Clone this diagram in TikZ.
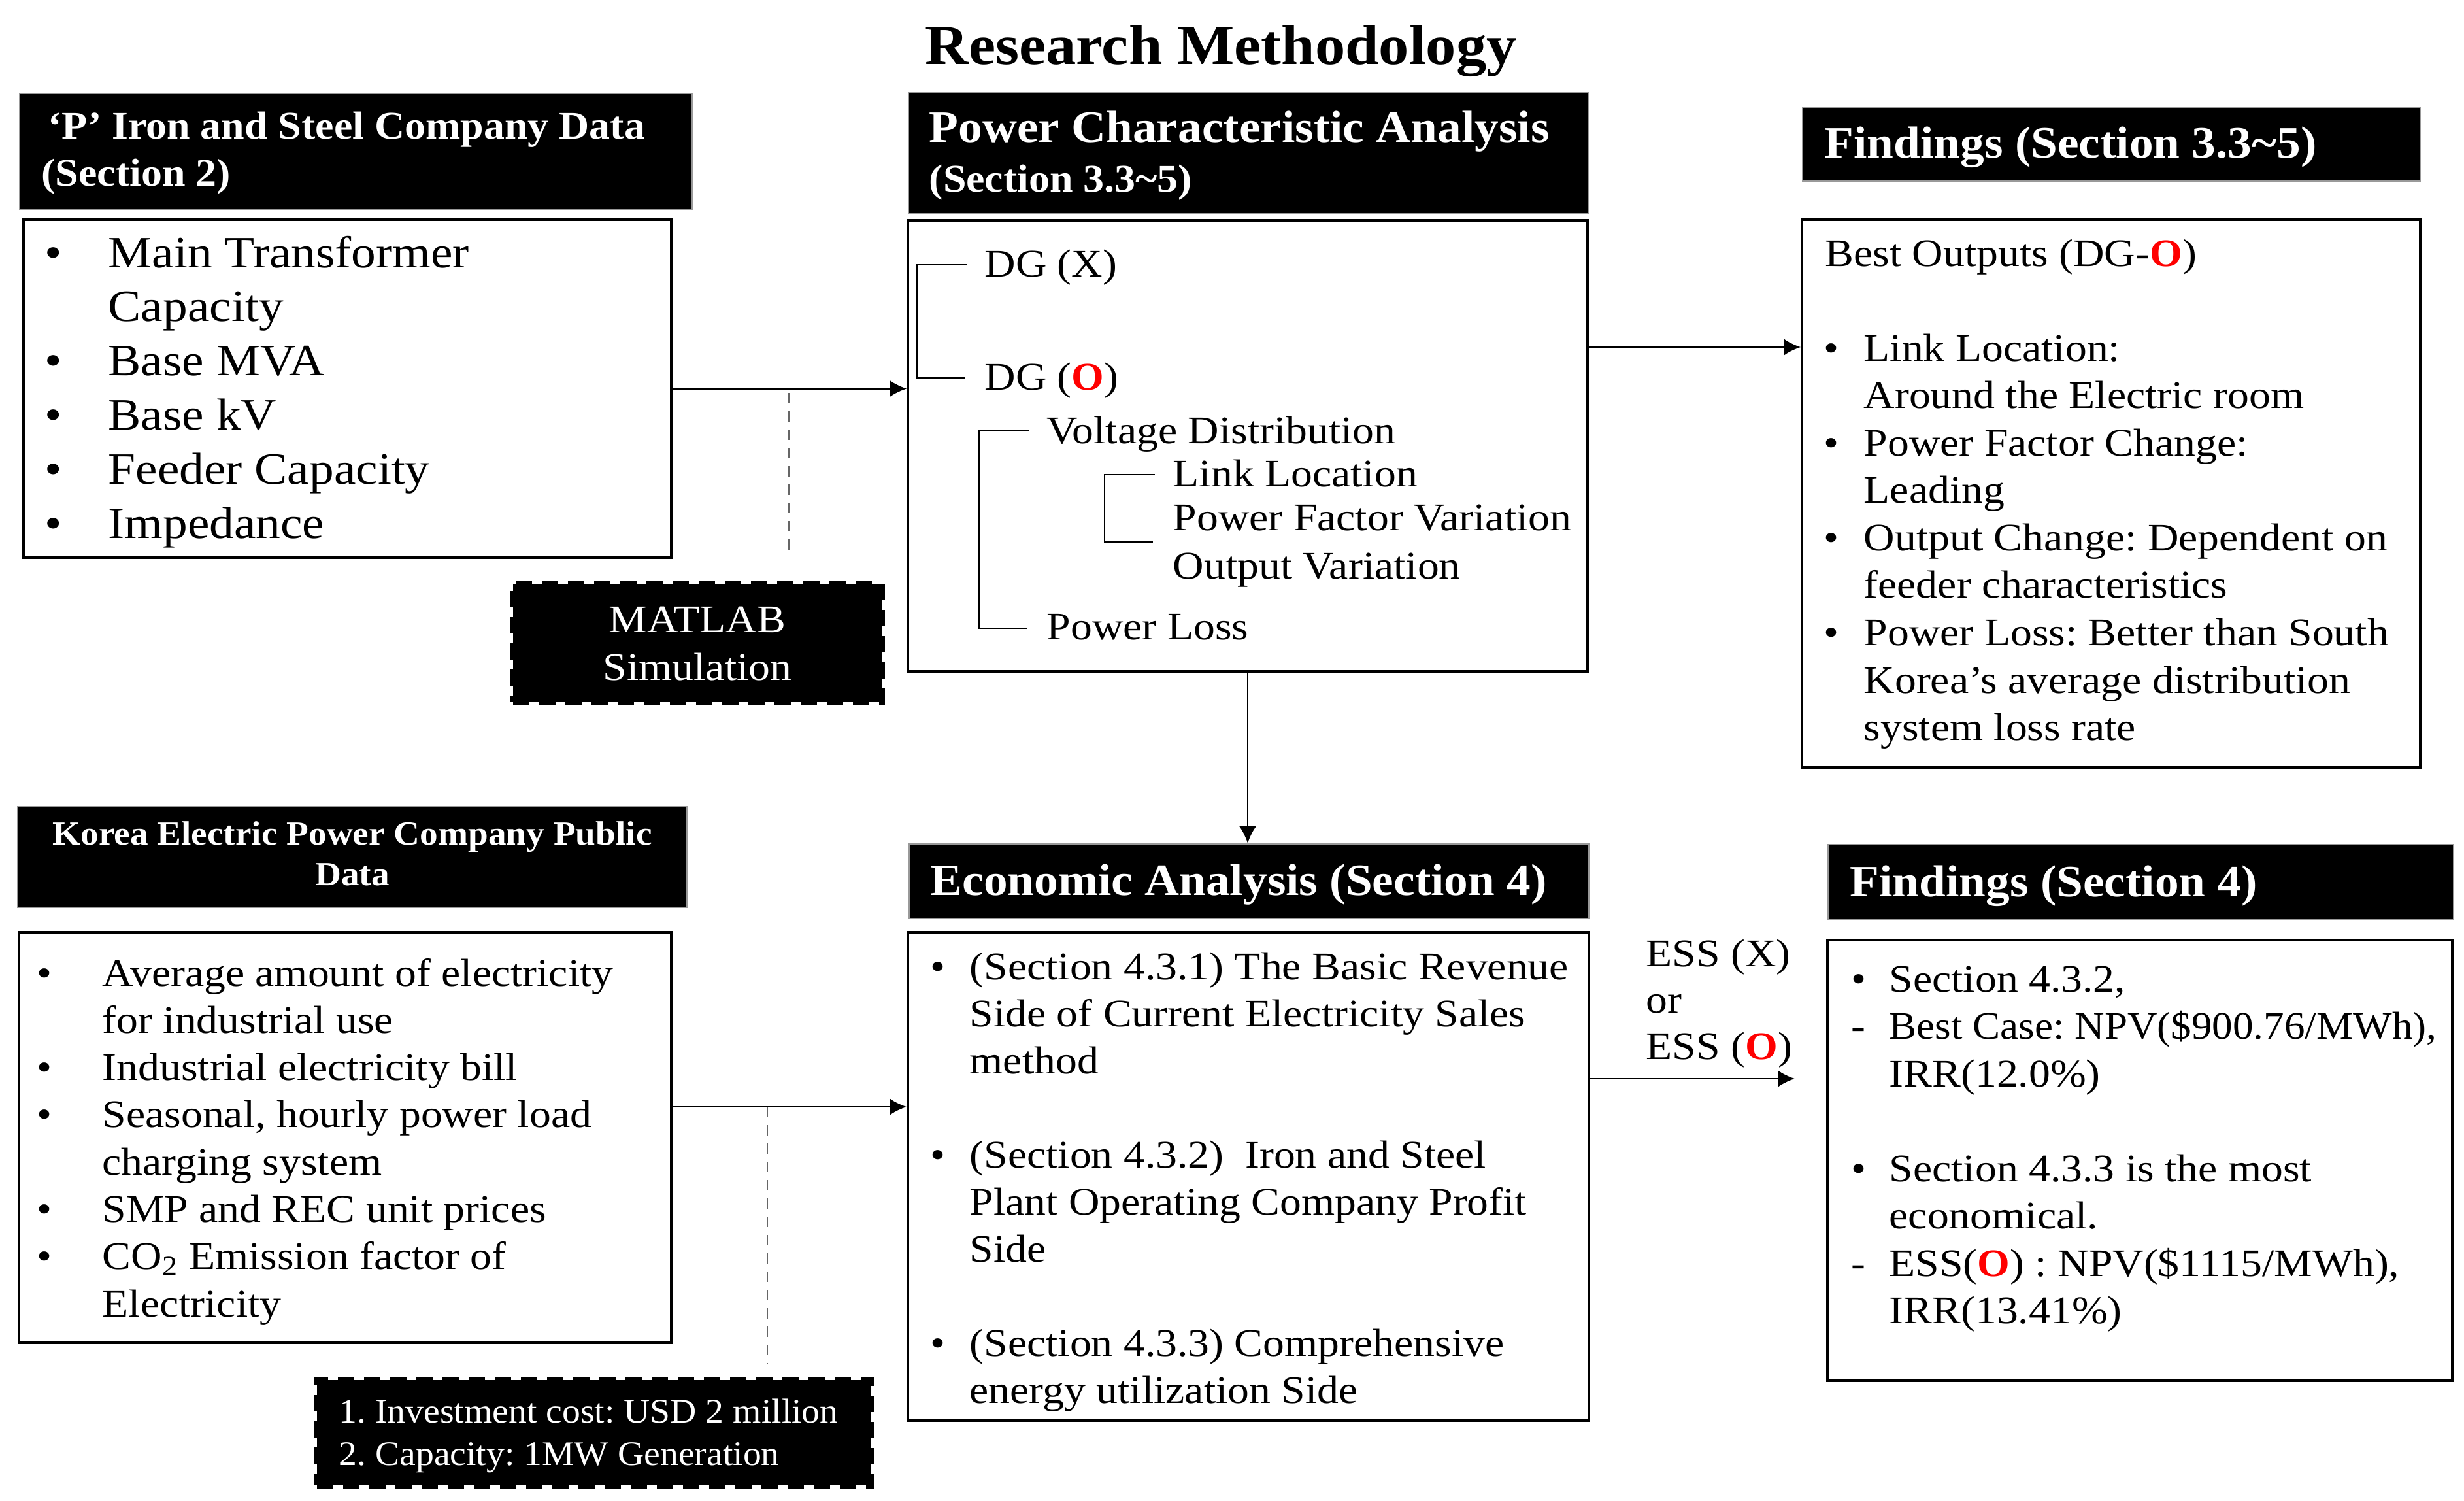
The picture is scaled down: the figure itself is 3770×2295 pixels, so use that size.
\documentclass[tikz,border=0pt]{standalone}
\usepackage{fontspec}
\usepackage{graphicx}
\setmainfont{Liberation Serif}[UprightFeatures={FakeStretch=1.10}, BoldFeatures={FakeStretch=1.07}]
\usetikzlibrary{arrows.meta,fit}
\newcommand\bitem[2]{\llap{\makebox[0pt][c]{\textbullet}\hspace{#1}}#2}
\newcommand\ditem[2]{\llap{\makebox[0pt][c]{-}\hspace{#1}}#2}
\newcommand\RO{\textcolor{red}{\textbf{O}}}
\frenchspacing
\begin{document}
\frenchspacing
\begin{tikzpicture}[x=0.1mm,y=-0.1mm,
  hdr/.style={fill=black, draw=black!40, line width=0.6pt, inner sep=0pt},
  bodybox/.style={draw=black, line width=1.1pt, inner sep=0pt},
  txt/.style={anchor=base west, inner sep=0pt},
  wtxt/.style={txt, text=white},
  arr/.style={-{Latex[length=2.6mm,width=2.6mm]}, line width=0.8pt},
  dashln/.style={draw=black!60, line width=0.7pt, dash pattern=on 1.6mm off 1.2mm},
  simbox/.style={fill=black, draw=black, line width=1mm, dash pattern=on 2.5mm off 1.5mm, inner sep=0pt},
  tree/.style={line width=0.6pt},
  hfont/.style={font=\fontsize{19.5}{23}\selectfont\bfseries},
  bfont/.style={font=\fontsize{17}{20.6}\selectfont}]
\useasboundingbox (0,0) rectangle (3770,2295);
\fill[white] (0,0) rectangle (3770,2295);

% title
\node[anchor=base, inner sep=0pt, font=\fontsize{24.6}{29}\selectfont\bfseries] (title) at (1868,98) {Research Methodology};

% ---- Box A
\node[hdr, fit={(30,143)(1059,320)}] (Ahdr) {};
\node[wtxt, font=\fontsize{17}{20.5}\selectfont\bfseries] (Ahdrt) at (63,212)
  {\begin{tabular}[t]{@{}l@{}}\hspace{1mm}`P' Iron and Steel Company Data\\(Section 2)\end{tabular}};
\node[bodybox, fit={(36,336)(1027,853)}] (A) {};
\node[txt, font=\fontsize{19.5}{23.56}\selectfont] (At) at (165,409)
  {\begin{tabular}[t]{@{}l@{}}
   \bitem{8.4mm}{Main Transformer}\\
   Capacity\\
   \bitem{8.4mm}{Base MVA}\\
   \bitem{8.4mm}{Base kV}\\
   \bitem{8.4mm}{Feeder Capacity}\\
   \bitem{8.4mm}{Impedance}
  \end{tabular}};

% ---- MATLAB
\node[simbox, fit={(785,893)(1349,1074)}] (Mat) {};
\node[anchor=base, inner sep=0pt, text=white, font=\fontsize{17}{20.8}\selectfont] (Matt) at (1067,967)
  {\begin{tabular}[t]{@{}c@{}}MATLAB\\Simulation\end{tabular}};

% ---- Box B
\node[hdr, fit={(1390,141)(2430,327)}] (Bhdr) {};
\node[wtxt, hfont] (Bh1) at (1421,217) {Power Characteristic Analysis};
\node[wtxt, font=\fontsize{17}{20}\selectfont\bfseries] (Bh2) at (1421,293) {(Section 3.3\textasciitilde5)};
\node[bodybox, fit={(1389,337)(2429,1027)}] (B) {};
\node[txt, bfont] (dgx) at (1506,423) {DG (X)};
\node[txt, bfont] (dgo) at (1506,596) {DG (\RO)};
\node[txt, bfont] (vd) at (1601,678) {Voltage Distribution};
\node[txt, bfont] (ll) at (1794,744) {Link Location};
\node[txt, bfont] (pfv) at (1794,811) {Power Factor Variation};
\node[txt, bfont] (ov) at (1794,885) {Output Variation};
\node[txt, bfont] (pl) at (1601,978) {Power Loss};
\draw[tree] (1480,405) -- (1403,405) -- (1403,578) -- (1476,578);
\draw[tree] (1575,659) -- (1498,659) -- (1498,961) -- (1571,961);
\draw[tree] (1767,726) -- (1690,726) -- (1690,829) -- (1764,829);

% ---- Box C
\node[hdr, fit={(2758,164)(3703,277)}] (Chdr) {};
\node[wtxt, hfont] (Cht) at (2791,241) {Findings (Section 3.3\textasciitilde5)};
\node[bodybox, fit={(2757,336)(3703,1174)}] (C) {};
\node[txt, bfont] (best) at (2792,407) {Best Outputs (DG-\RO)};
\node[txt, font=\fontsize{17}{20.65}\selectfont] (Ct) at (2851,552)
  {\begin{tabular}[t]{@{}l@{}}
   \bitem{5mm}{Link Location:}\\
   Around the Electric room\\
   \bitem{5mm}{Power Factor Change:}\\
   Leading\\
   \bitem{5mm}{Output Change: Dependent on}\\
   feeder characteristics\\
   \bitem{5mm}{Power Loss: Better than South}\\
   Korea's average distribution\\
   system loss rate
  \end{tabular}};

% ---- Box D
\node[hdr, fit={(27,1234)(1051,1388)}] (Dhdr) {};
\node[anchor=base, inner sep=0pt, text=white, font=\fontsize{14.7}{17.64}\selectfont\bfseries] (Dht) at (539,1292)
  {\begin{tabular}[t]{@{}c@{}}Korea Electric Power Company Public\\Data\end{tabular}};
\node[bodybox, fit={(29,1426)(1027,2054)}] (D) {};
\node[txt, font=\fontsize{17}{20.57}\selectfont] (Dt) at (156,1508)
  {\begin{tabular}[t]{@{}l@{}}
   \bitem{8.9mm}{Average amount of electricity}\\
   for industrial use\\
   \bitem{8.9mm}{Industrial electricity bill}\\
   \bitem{8.9mm}{Seasonal, hourly power load}\\
   charging system\\
   \bitem{8.9mm}{SMP and REC unit prices}\\
   \bitem{8.9mm}{CO\textsubscript{2} Emission factor of}\\
   Electricity
  \end{tabular}};

% ---- Investment
\node[simbox, fit={(485,2111)(1333,2272)}] (Inv) {};
\node[wtxt, font=\fontsize{15}{18.5}\selectfont] (Invt) at (518,2176)
  {\scalebox{0.96}[1]{\begin{tabular}[t]{@{}l@{}}1. Investment cost: USD 2 million\\2. Capacity: 1MW Generation\end{tabular}}};

% ---- Box E
\node[hdr, fit={(1391,1291)(2431,1405)}] (Ehdr) {};
\node[wtxt, hfont] (Eht) at (1423,1369) {Economic Analysis (Section 4)};
\node[bodybox, fit={(1389,1426)(2431,2173)}] (E) {};
\node[txt, font=\fontsize{17}{20.49}\selectfont] (Et) at (1483,1498)
  {\begin{tabular}[t]{@{}l@{}}
   \bitem{4.9mm}{(Section 4.3.1) The Basic Revenue}\\
   Side of Current Electricity Sales\\
   method\\
   \\
   \bitem{4.9mm}{(Section 4.3.2)\ \ Iron and Steel}\\
   Plant Operating Company Profit\\
   Side\\
   \\
   \bitem{4.9mm}{(Section 4.3.3) Comprehensive}\\
   energy utilization Side
  \end{tabular}};
\node[txt, font=\fontsize{17}{20.2}\selectfont] (ess) at (2518,1478)
  {\begin{tabular}[t]{@{}l@{}}ESS (X)\\or\\ESS (\RO)\end{tabular}};

% ---- Box F
\node[hdr, fit={(2797,1292)(3754,1406)}] (Fhdr) {};
\node[wtxt, hfont] (Fht) at (2830,1371) {Findings (Section 4)};
\node[bodybox, fit={(2796,1438)(3752,2112)}] (F) {};
\node[txt, font=\fontsize{17}{20.63}\selectfont] (Ft) at (2890,1517)
  {\begin{tabular}[t]{@{}l@{}}
   \bitem{4.7mm}{Section 4.3.2,}\\
   \ditem{4.7mm}{\scalebox{0.96}[1]{Best Case: NPV(\$900.76/MWh),}}\\
   IRR(12.0\%)\\
   \\
   \bitem{4.7mm}{Section 4.3.3 is the most}\\
   economical.\\
   \ditem{4.7mm}{ESS(\RO) : NPV(\$1115/MWh),}\\
   IRR(13.41\%)
  \end{tabular}};

% ---- connectors
\coordinate (mtop) at (1207,601);
\coordinate (mbot) at (1207,854);
\coordinate (itop) at (1174,1693);
\coordinate (ibot) at (1174,2087);
\coordinate (essend) at (2746,1650);
\draw[arr] (A.east) -- (A.east -| B.west);
\draw[dashln] (mtop) -- (mbot);
\draw[arr] (B.east |- 0,531) -- (C.west |- 0,531);
\draw[arr] (B.south) -- (B.south |- Ehdr.north);
\draw[arr] (D.east |- 0,1693) -- (E.west |- 0,1693);
\draw[dashln] (itop) -- (ibot);
\draw[arr] (E.east |- 0,1650) -- (essend);
\end{tikzpicture}
\end{document}
